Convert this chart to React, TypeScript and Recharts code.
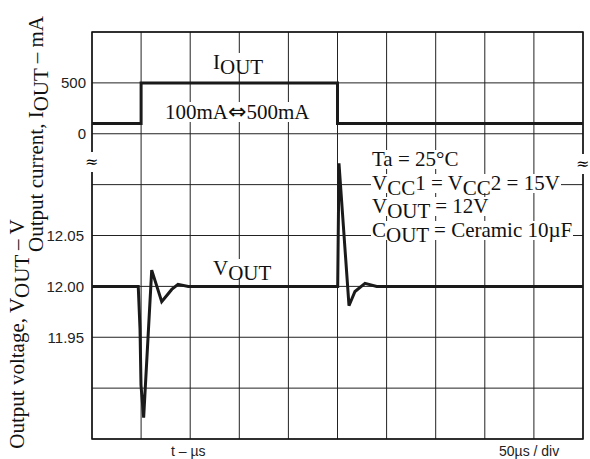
import React from 'react';
import {
  LineChart,
  Line,
  XAxis,
  YAxis,
  CartesianGrid,
  ReferenceLine,
  ReferenceArea
} from 'recharts';

// time axis: 50us / div, 10 divisions
const timeTicks = [0, 50, 100, 150, 200, 250, 300, 350, 400, 450, 500];

// voltage grid (V), 0.05 V / div
const voltTicks = [11.85, 11.9, 11.95, 12.0, 12.05, 12.1, 12.15, 12.2, 12.25];
const voltLabelled = [11.95, 12.0, 12.05];

// current axis (mA), 500 mA / div, labelled lines
const currentTicks = [0, 500];

// V_OUT trace
const vTime = [0, 47.1, 48.9, 49.9, 52.6, 60.8, 71.0, 81.2, 87.6, 98.0, 250.2, 251.5, 261.7, 267.8, 278.0, 289.9, 500];
const vVolt = [12.0, 12.0, 11.958, 11.903, 11.871, 12.016, 11.985, 11.997, 12.002, 12.0, 12.0, 12.121, 11.981, 11.995, 12.003, 12.0, 12.0];

// I_OUT load step 100mA <-> 500mA
const iTime = [0, 50, 50, 250, 250, 500];
const iAmp = [100, 100, 500, 500, 100, 100];

const vData = vTime.map((t, i) => ({ t, v: vVolt[i] }));
const iData = iTime.map((t, i) => ({ t, i: iAmp[i] }));

const SERIF = "'Liberation Serif', 'Times New Roman', serif";
const SANS = "'Liberation Sans', Arial, sans-serif";

const Sub: React.FC<{ children: React.ReactNode }> = ({ children }) => (
  <span style={{ position: 'relative', top: 5 }}>{children}</span>
);

// annotation texts (left, top, content)
const notes: [number, number, React.ReactNode][] = [
  [212, 53, <>I<Sub>OUT</Sub></>],
  [164, 102, <>100mA<span style={{ fontFamily: "'DejaVu Sans', sans-serif", fontSize: 22 }}>⇔</span>500mA</>],
  [212, 259, <>V<Sub>OUT</Sub></>],
  [371, 150, <>Ta = 25°C</>],
  [371, 174, <>V<Sub>CC</Sub>1 = V<Sub>CC</Sub>2 = 15V</>],
  [371, 197, <>V<Sub>OUT</Sub> = 12V</>],
  [371, 221, <>C<Sub>OUT</Sub> = Ceramic 10µF</>]
];

const Note: React.FC<{ left: number; top: number; knockout?: boolean; children: React.ReactNode }> = ({ left, top, knockout, children }) => (
  <div style={{
    position: 'absolute', left, top, fontFamily: SERIF, fontSize: 21, lineHeight: '19px',
    background: knockout ? '#fff' : 'transparent', color: knockout ? 'transparent' : '#111',
    whiteSpace: 'nowrap', padding: '0 1px'
  }}>
    {children}
  </div>
);

const VoltTick = (props: any) => {
  const { x, y, payload } = props;
  const v = payload.value as number;
  const txt = voltLabelled.some(k => Math.abs(k - v) < 1e-6) ? v.toFixed(2) : '';
  return (
    <text x={x} y={y} dy="0.36em" textAnchor="end" fill="#222" fontSize={15} fontFamily={SANS}>
      {txt}
    </text>
  );
};

export default function App() {
  return (
    <div style={{ position: 'absolute', left: 0, top: 0, width: 590, height: 459, background: '#fff' }}>
      <LineChart width={590} height={459} margin={{ top: 32, right: 7, bottom: 0, left: 0 }}>
        <CartesianGrid yAxisId="v" stroke="#222" strokeWidth={1} />
        <XAxis
          type="number"
          dataKey="t"
          domain={[0, 500]}
          ticks={timeTicks}
          interval={0}
          tickFormatter={() => ''}
          tickLine={false}
          axisLine={false}
          height={20}
        />
        <YAxis
          yAxisId="v"
          type="number"
          domain={[11.85, 12.25]}
          ticks={voltTicks}
          interval={0}
          tick={<VoltTick />}
          width={92}
          tickLine={false}
          axisLine={false}
          allowDataOverflow
        />
        <YAxis yAxisId="i" orientation="right" width={0} type="number" domain={[-3000, 1000]} hide allowDataOverflow />

        {currentTicks.map(c => (
          <ReferenceLine
            key={c}
            yAxisId="i"
            y={c}
            stroke="none"
            label={{ value: String(c), position: 'left', offset: 6, fill: '#222', fontSize: 15, fontFamily: SANS }}
          />
        ))}

        <ReferenceArea
          yAxisId="v"
          x1={0}
          x2={500}
          y1={11.85}
          y2={12.25}
          fill="none"
          stroke="#111"
          strokeWidth={1.5}
        />

        <Line
          yAxisId="i"
          data={iData}
          dataKey="i"
          type="linear"
          stroke="#1a1a1a"
          strokeWidth={3}
          dot={false}
          isAnimationActive={false}
        />
        <Line
          yAxisId="v"
          data={vData}
          dataKey="v"
          type="linear"
          stroke="#1a1a1a"
          strokeWidth={3}
          dot={false}
          isAnimationActive={false}
        />
      </LineChart>

      {/* axis titles */}
      <div style={{
        position: 'absolute', left: 17, top: 334, transform: 'translate(-50%, -50%) rotate(-90deg)',
        fontFamily: SERIF, fontSize: 21, whiteSpace: 'nowrap', color: '#111', lineHeight: '20px'
      }}>
        Output voltage, V<Sub>OUT</Sub> – V
      </div>
      <div style={{
        position: 'absolute', left: 36, top: 134, transform: 'translate(-50%, -50%) rotate(-90deg)',
        fontFamily: SERIF, fontSize: 21, whiteSpace: 'nowrap', color: '#111', lineHeight: '20px'
      }}>
        Output current, I<Sub>OUT</Sub> – mA
      </div>

      {/* axis break marks */}
      <div style={{ position: 'absolute', left: 85, top: 152, fontFamily: "'DejaVu Serif', serif", fontSize: 16, lineHeight: '20px', background: '#fff' }}>≈</div>
      <div style={{ position: 'absolute', left: 576, top: 154, fontFamily: "'DejaVu Serif', serif", fontSize: 16, lineHeight: '20px', background: '#fff' }}>≈</div>

      {/* white knockouts behind the labels, then the labels */}
      {notes.map(([l, t, c], k) => <Note key={'b' + k} left={l} top={t} knockout>{c}</Note>)}
      {notes.map(([l, t, c], k) => <Note key={'t' + k} left={l} top={t}>{c}</Note>)}

      {/* x axis captions */}
      <div style={{ position: 'absolute', left: 171, top: 443, fontFamily: SANS, fontSize: 14, color: '#222' }}>t – µs</div>
      <div style={{ position: 'absolute', left: 499, top: 443, fontFamily: SANS, fontSize: 14, color: '#222' }}>50µs / div</div>
    </div>
  );
}
